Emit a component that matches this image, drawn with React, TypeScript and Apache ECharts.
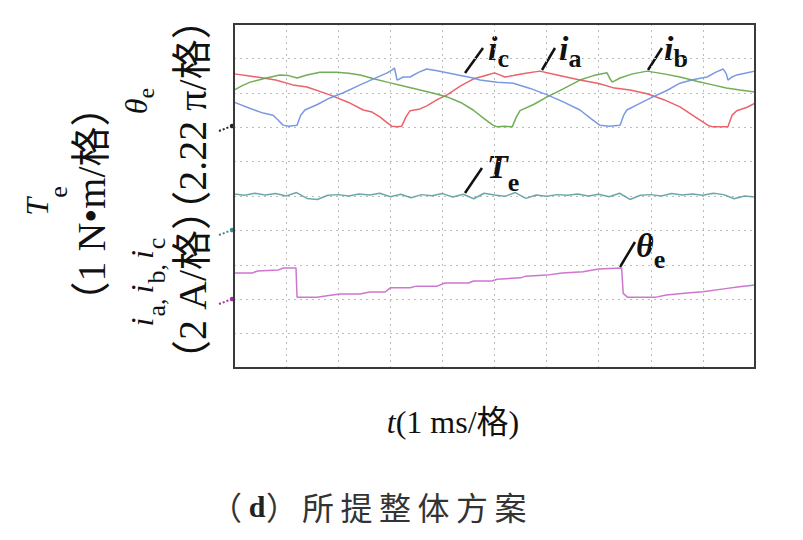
import React, { useEffect, useRef } from "react";
import * as echarts from "echarts";

// ---- data (time in divisions of 1 ms, amplitude in screen divisions) ----
const X_MIN = 0;
const X_MAX = 10;
const Y_MIN = 0;
const Y_MAX = 10;

const iaData: number[][] = [
  [0, 8.55], [0.3, 8.49], [0.56, 8.43], [0.8, 8.37], [1.13, 8.23], [1.4, 8.17], [1.84, 7.94], [2.2, 7.72],
  [2.48, 7.5], [2.65, 7.44], [2.8, 7.3], [2.95, 7.12], [3.03, 7.03], [3.13, 7.01], [3.22, 7.03], [3.3, 7.3],
  [3.38, 7.48], [3.55, 7.52], [3.7, 7.62], [3.9, 7.8], [4.09, 7.94], [4.35, 8.2], [4.59, 8.4], [4.86, 8.52],
  [5.0, 8.58], [5.1, 8.52], [5.2, 8.46], [5.36, 8.5], [5.6, 8.57], [5.87, 8.63], [6.2, 8.52], [6.64, 8.37],
  [7.0, 8.27], [7.27, 8.15], [7.6, 8.08], [7.93, 7.97], [8.25, 7.8], [8.56, 7.59], [8.85, 7.3], [9.1, 7.05],
  [9.19, 7.01], [9.48, 7.01], [9.56, 7.35], [9.65, 7.48], [9.85, 7.58], [10, 7.7],
];

const ibData: number[][] = [
  [0, 8.08], [0.15, 8.2], [0.31, 8.31], [0.6, 8.42], [0.88, 8.52], [1.05, 8.5], [1.21, 8.43], [1.4, 8.52],
  [1.65, 8.6], [1.98, 8.6], [2.2, 8.57], [2.42, 8.52], [2.7, 8.4], [2.94, 8.31], [3.25, 8.2], [3.57, 8.08],
  [3.85, 7.98], [4.09, 7.88], [4.35, 7.72], [4.59, 7.5], [4.8, 7.25], [4.97, 7.06], [5.05, 7.01], [5.2, 7.03],
  [5.34, 7.01], [5.42, 7.3], [5.49, 7.48], [5.75, 7.66], [6.01, 7.88], [6.3, 8.1], [6.64, 8.37], [6.9, 8.5],
  [7.16, 8.58], [7.22, 8.4], [7.26, 8.31], [7.41, 8.43], [7.65, 8.55], [7.93, 8.63], [8.25, 8.55], [8.56, 8.46],
  [8.9, 8.33], [9.19, 8.23], [9.45, 8.14], [9.71, 8.08], [10, 8.02],
];

const icData: number[][] = [
  [0, 7.73], [0.3, 7.55], [0.56, 7.41], [0.75, 7.35], [0.85, 7.2], [0.94, 7.06], [1.05, 7.03], [1.21, 7.06],
  [1.28, 7.35], [1.36, 7.5], [1.6, 7.66], [1.84, 7.85], [2.1, 8.0], [2.42, 8.23], [2.7, 8.42], [2.94, 8.58],
  [3.03, 8.66], [3.08, 8.72], [3.13, 8.37], [3.25, 8.46], [3.38, 8.46], [3.55, 8.6], [3.7, 8.69], [3.9, 8.64],
  [4.09, 8.58], [4.35, 8.5], [4.59, 8.43], [4.72, 8.37], [5.05, 8.31], [5.36, 8.28], [5.7, 8.12], [6.01, 7.94],
  [6.3, 7.75], [6.64, 7.5], [6.85, 7.25], [7.02, 7.06], [7.2, 7.03], [7.41, 7.06], [7.48, 7.35], [7.54, 7.5],
  [7.8, 7.7], [8.04, 7.88], [8.3, 8.06], [8.56, 8.28], [8.8, 8.38], [9.08, 8.46], [9.25, 8.6], [9.39, 8.69],
  [9.45, 8.55], [9.48, 8.37], [9.56, 8.46], [9.65, 8.52], [9.85, 8.58], [10, 8.63],
];

// electromagnetic torque, sampled every 0.2 division
const TE_STEP = 0.2;
const teValues: number[] = [
  5.06, 5.02, 5.08, 5.03, 5.07, 5.0, 5.1, 4.93, 4.9, 5.02, 5.04, 5.0, 5.06, 5.03, 5.08, 4.98, 5.05,
  4.95, 5.04, 5.01, 5.07, 4.97, 5.05, 4.92, 5.08, 5.03, 4.99, 5.1, 4.93, 5.03, 4.99, 5.04, 5.02, 5.06,
  5.0, 5.05, 4.98, 5.08, 4.9, 5.02, 5.04, 5.0, 5.07, 5.03, 5.06, 5.02, 5.08, 5.04, 4.92, 5.0, 4.97,
];

const thetaData: number[][] = [
  [0, 2.76], [0.35, 2.76], [0.45, 2.82], [0.85, 2.85], [0.95, 2.91], [1.19, 2.91], [1.21, 2.06], [1.6, 2.06],
  [1.75, 2.09], [2.03, 2.15], [2.42, 2.15], [2.6, 2.21], [2.9, 2.21], [3.0, 2.33], [3.38, 2.33], [3.5, 2.38],
  [3.9, 2.38], [4.05, 2.47], [4.5, 2.47], [4.6, 2.53], [4.95, 2.53], [5.05, 2.58], [5.5, 2.62], [5.6, 2.67],
  [6.0, 2.7], [6.3, 2.76], [6.7, 2.8], [7.0, 2.88], [7.44, 2.91], [7.47, 2.17], [7.55, 2.06], [8.1, 2.06],
  [8.3, 2.12], [8.7, 2.18], [9.0, 2.22], [9.4, 2.3], [9.7, 2.36], [10, 2.41],
];

const COLORS = {
  ia: "#e8525a",
  ib: "#62a544",
  ic: "#6b8ee0",
  te: "#5c9fa2",
  theta: "#c668c8",
};

const SERIF = '"Liberation Serif", "Noto Sans CJK SC", serif';
const CJK = '"Noto Sans CJK SC", sans-serif';

type Piece = { t: string; size: number; italic?: boolean; bold?: boolean; by?: number; gap?: number; family?: string };

let measureCtx: CanvasRenderingContext2D | null = null;
function fontStr(p: Piece) {
  return `${p.italic ? "italic " : ""}${p.bold ? "bold " : ""}${p.size}px ${p.family || SERIF}`;
}
function measure(p: Piece) {
  if (!measureCtx) measureCtx = document.createElement("canvas").getContext("2d");
  if (!measureCtx) return p.t.length * p.size * 0.5;
  measureCtx.font = fontStr(p);
  return measureCtx.measureText(p.t).width;
}

// pieces laid out along a baseline; `by` is each piece's baseline offset
function label(pieces: Piece[], x: number, y: number, rotation: number, align: "center" | "left", color = "#111") {
  const widths = pieces.map(measure);
  const total = widths.reduce((s, w, i) => s + w + (i < pieces.length - 1 ? pieces[i].gap || 0 : 0), 0);
  let cx = align === "center" ? -total / 2 : 0;
  const children: any[] = [];
  pieces.forEach((p, i) => {
    const by = p.by || 0;
    children.push({
      type: "text",
      x: cx,
      y: by - 0.34 * p.size,
      style: {
        text: p.t,
        fill: color,
        fontSize: p.size,
        fontFamily: p.family || SERIF,
        fontStyle: p.italic ? "italic" : "normal",
        fontWeight: p.bold ? "bold" : "normal",
        align: "left",
        verticalAlign: "middle",
      },
    });
    cx += widths[i] + (p.gap || 0);
  });
  return { type: "group", x, y, rotation, children };
}

// a single rotated line of text centred on (x, y)
function vtext(text: string, size: number, x: number, y: number, color = "#111") {
  return {
    type: "text",
    x,
    y,
    rotation: Math.PI / 2,
    style: { text, fontSize: size, fontFamily: SERIF, fill: color, align: "center", verticalAlign: "middle" },
  };
}

function leader(x1: number, y1: number, x2: number, y2: number) {
  return { type: "line", shape: { x1, y1, x2, y2 }, style: { stroke: "#111", lineWidth: 2.5 } };
}

function marker(y: number, color: string) {
  return {
    type: "group",
    children: [
      { type: "line", shape: { x1: 219, y1: y + 5, x2: 232, y2: y }, style: { stroke: color, lineWidth: 2, lineDash: [2, 2] } },
      { type: "circle", shape: { cx: 232, cy: y, r: 2.2 }, style: { fill: color } },
    ],
  };
}

export default function App() {
  const ref = useRef<HTMLDivElement>(null);
  useEffect(() => {
    if (!ref.current) return;
    const chart = echarts.init(ref.current, undefined, { renderer: "svg" });
    const teData = teValues.map((v, i) => [i * TE_STEP, v]);
    const lineSeries = (name: string, data: number[][], color: string) => ({
      name,
      type: "line",
      data,
      showSymbol: false,
      symbol: "none",
      smooth: false,
      lineStyle: { color, width: 1.5, opacity: 0.9 },
      z: 3,
    });
    const axisCommon = {
      type: "value",
      interval: 1,
      axisLabel: { show: false },
      axisTick: { show: false },
      axisLine: { show: false },
      splitLine: { show: true, lineStyle: { color: "#bdbdbd", width: 1, type: [2, 4] } },
    };
    const M = 34;
    const S = 26;
    chart.setOption({
      animation: false,
      backgroundColor: "#ffffff",
      grid: { left: 234, top: 24, width: 521, height: 344, show: true, borderColor: "#3a3a3a", borderWidth: 2, backgroundColor: "transparent", z: 4 },
      xAxis: { ...axisCommon, min: X_MIN, max: X_MAX },
      yAxis: { ...axisCommon, min: Y_MIN, max: Y_MAX },
      series: [
        lineSeries("ia", iaData, COLORS.ia),
        lineSeries("ib", ibData, COLORS.ib),
        lineSeries("ic", icData, COLORS.ic),
        lineSeries("Te", teData, COLORS.te),
        lineSeries("θe", thetaData, COLORS.theta),
      ],
      graphic: [
        // in-plot annotations
        leader(465, 73, 483, 48),
        label([{ t: "i", size: M, italic: true, bold: true, by: 60 }, { t: "c", size: S, bold: true, by: 67 }], 488, 0, 0, "left"),
        leader(542, 70, 555, 48),
        label([{ t: "i", size: M, italic: true, bold: true, by: 60 }, { t: "a", size: S, bold: true, by: 67 }], 559, 0, 0, "left"),
        leader(648, 70, 662, 48),
        label([{ t: "i", size: M, italic: true, bold: true, by: 60 }, { t: "b", size: S, bold: true, by: 67 }], 664, 0, 0, "left"),
        leader(465, 193, 482, 168),
        label([{ t: "T", size: M, italic: true, bold: true, by: 178 }, { t: "e", size: S, bold: true, by: 191 }], 487, 0, 0, "left"),
        leader(620, 267, 635, 242),
        label([{ t: "θ", size: M, italic: true, bold: true, by: 257 }, { t: "e", size: S, bold: true, by: 268 }], 636, 0, 0, "left"),
        // channel markers
        marker(126, "#222222"),
        marker(230, "#3b8c8e"),
        marker(299, "#a0309c"),
        // rotated y-axis titles
        label([{ t: "T", size: 32, italic: true, by: 0 }, { t: "e", size: 26, by: 19 }], 48, 201, Math.PI / 2, "center"),
        vtext("（1 N•m/格）", 40, 91, 204),
        label([{ t: "θ", size: 32, italic: true, by: 0 }, { t: "e", size: 24, by: 7 }], 147, 101, Math.PI / 2, "center"),
        label(
          [
            { t: "i", size: 32, italic: true, by: 0, gap: 1 },
            { t: "a", size: 26, by: 12 },
            { t: ",", size: 26, by: 12, gap: 5 },
            { t: "i", size: 32, italic: true, by: 0, gap: 1 },
            { t: "b", size: 26, by: 12 },
            { t: ",", size: 26, by: 12, gap: 5 },
            { t: "i", size: 32, italic: true, by: 0, gap: 1 },
            { t: "c", size: 26, by: 12 },
          ],
          153, 282, Math.PI / 2, "center"
        ),
        vtext("（2.22 π/格）", 40, 192, 115),
        vtext("（2 A/格）", 40, 192, 285),
        // x-axis title
        label([{ t: "t", size: 32, italic: true }, { t: "(1 ms/格)", size: 32 }], 453, 433, 0, "center"),
        // caption
        { type: "text", x: 242, y: 506, style: { text: "（", fontSize: 32, fontFamily: CJK, fill: "#333", align: "right", verticalAlign: "middle" } },
        { type: "text", x: 257, y: 506, style: { text: "d", fontSize: 30, fontFamily: SERIF, fontWeight: "bold", fill: "#222", align: "center", verticalAlign: "middle" } },
        { type: "text", x: 266, y: 506, style: { text: "）", fontSize: 32, fontFamily: CJK, fill: "#333", align: "left", verticalAlign: "middle" } },
        ...["所", "提", "整", "体", "方", "案"].map((c, i) => ({
          type: "text",
          x: 318 + i * 38.5,
          y: 506,
          style: { text: c, fontSize: 32, fontFamily: CJK, fill: "#333", align: "center", verticalAlign: "middle" },
        })),
      ],
    });
    return () => chart.dispose();
  }, []);
  return <div ref={ref} style={{ position: "absolute", left: 0, top: 0, width: 803, height: 540, background: "#fff" }} />;
}
